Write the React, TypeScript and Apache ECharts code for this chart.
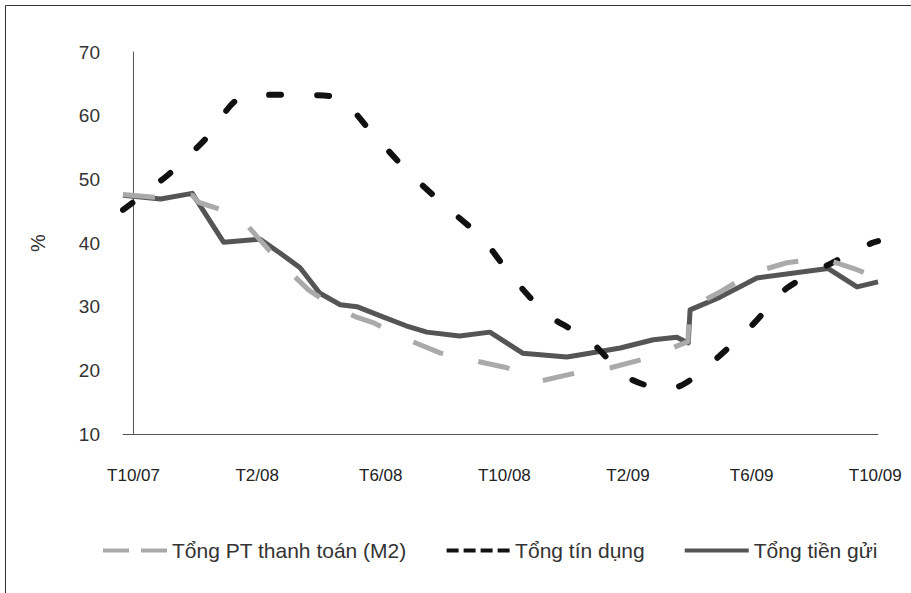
import React, { useEffect, useRef } from "react";
import * as echarts from "echarts";

// x = months since T10/07 (T10/07 = 0, T2/08 = 4, ...)
const xTickLabels = ["T10/07", "T2/08", "T6/08", "T10/08", "T2/09", "T6/09", "T10/09"];
const xTickValues = [0, 4, 8, 12, 16, 20, 24];
const seriesNames = ["Tổng PT thanh toán (M2)", "Tổng tín dụng", "Tổng tiền gửi"];

const m2Data: [number, number][] = [
  [-0.34, 47.6], [0.68, 47.2], [1.9, 47.5], [2.1, 46.4], [3.12, 44.8], [3.73, 42.5], [4.09, 40.5],
  [4.75, 36.9], [5.67, 32.6], [6.48, 30.0], [7.19, 28.4], [7.8, 27.4], [8.72, 25.1], [9.94, 22.7],
  [10.96, 21.6], [12.08, 20.4], [13.15, 18.3], [14.42, 19.7], [15.44, 20.4], [16.61, 21.9],
  [17.68, 24.0], [17.94, 24.5], [17.99, 29.8], [18.9, 32.1], [20.02, 35.3], [21.14, 36.9],
  [22.31, 37.6], [23.41, 35.8], [24.09, 34.5],
];

const creditData: [number, number][] = [
  [-0.34, 45.2], [1.19, 51.0], [2.38, 56.6], [3.39, 62.6], [4.95, 63.3], [6.58, 62.9], [7.7, 57.4],
  [8.82, 51.5], [10.04, 46.0], [11.27, 40.8], [12.28, 34.5], [13.4, 28.7], [14.73, 24.8],
  [15.95, 19.0], [16.97, 17.3], [17.58, 17.4], [18.8, 21.6], [20.02, 27.1], [21.14, 32.9],
  [22.77, 37.3], [23.89, 40.0], [24.09, 40.3],
];

const depositData: [number, number][] = [
  [-0.34, 47.5], [0.88, 46.9], [1.9, 47.8], [2.92, 40.1], [4.09, 40.6], [4.75, 38.4], [5.39, 36.1],
  [6.03, 32.1], [6.69, 30.3], [7.23, 30.0], [8.07, 28.4], [8.82, 27.0], [9.49, 26.0],
  [10.55, 25.4], [11.53, 26.0], [12.59, 22.7], [14.02, 22.1], [14.42, 22.4], [15.75, 23.5],
  [16.82, 24.8], [17.58, 25.2], [17.95, 24.3], [18.01, 29.5], [18.98, 31.5], [20.17, 34.5],
  [22.47, 36.0], [23.41, 33.1], [24.09, 33.9],
];

const X_MIN = -0.34;
const X_MAX = 24.09;

const FONT = "'Liberation Sans', Arial, sans-serif";
const M2_COLOR = "#aaaaaa";
const CREDIT_COLOR = "#111111";
const DEPOSIT_COLOR = "#555555";

const ICON_M2 = "path://M0,0H26V4H0Z M38,0H64V4H38Z";
const ICON_CREDIT = "path://M0,0H12V4H0Z M17,0H29V4H17Z M34,0H46V4H34Z M51,0H63V4H51Z";
const ICON_DEPOSIT = "path://M0,0H64V4H0Z";

export default function App() {
  const ref = useRef<HTMLDivElement>(null);
  useEffect(() => {
    document.body.style.margin = "0";
    if (!ref.current) return;
    const chart = echarts.init(ref.current, null, { renderer: "svg" });
    chart.setOption({
      animation: false,
      backgroundColor: "#ffffff",
      graphic: [
        {
          type: "rect",
          shape: { x: 5.5, y: 5.5, width: 1200, height: 1200 },
          style: { fill: "none", stroke: "#333", lineWidth: 1 },
          silent: true,
        },
      ],
      grid: { left: 123, right: 33, top: 52, bottom: 159, containLabel: false },
      legend: {
        left: 98,
        top: 535,
        itemWidth: 64,
        itemHeight: 4,
        itemGap: 40,
        textStyle: { fontFamily: FONT, fontSize: 21, color: "#333" },
        data: [
          { name: seriesNames[0], icon: ICON_M2, itemStyle: { color: M2_COLOR } },
          { name: seriesNames[1], icon: ICON_CREDIT, itemStyle: { color: CREDIT_COLOR } },
          { name: seriesNames[2], icon: ICON_DEPOSIT, itemStyle: { color: DEPOSIT_COLOR } },
        ],
      },
      xAxis: {
        type: "value",
        min: X_MIN,
        max: X_MAX,
        axisLine: { show: true, lineStyle: { color: "#555", width: 1 } },
        axisTick: { show: false },
        splitLine: { show: false },
        axisLabel: {
          margin: 33,
          fontFamily: FONT,
          fontSize: 17,
          color: "#222",
          customValues: xTickValues,
          formatter: (v: number) => {
            const i = xTickValues.indexOf(Math.round(v));
            return i >= 0 ? xTickLabels[i] : "";
          },
        },
      },
      yAxis: {
        type: "value",
        min: 10,
        max: 70,
        interval: 10,
        name: "%",
        nameLocation: "middle",
        nameGap: 75,
        nameRotate: 90,
        nameTextStyle: { fontFamily: FONT, fontSize: 20, color: "#333" },
        axisLine: { show: true, lineStyle: { color: "#555", width: 1 } },
        axisTick: { show: false },
        splitLine: { show: false },
        axisLabel: { margin: 23, fontFamily: FONT, fontSize: 19, color: "#333" },
      },
      series: [
        {
          name: seriesNames[2],
          type: "line",
          data: depositData,
          symbol: "none",
          z: 2,
          lineStyle: { color: DEPOSIT_COLOR, width: 5, type: "solid", join: "round" },
          itemStyle: { color: DEPOSIT_COLOR },
        },
        {
          name: seriesNames[1],
          type: "line",
          data: creditData,
          symbol: "none",
          smooth: 0.25,
          z: 3,
          lineStyle: { color: CREDIT_COLOR, width: 6, type: [12, 36], cap: "round" },
          itemStyle: { color: CREDIT_COLOR },
        },
        {
          name: seriesNames[0],
          type: "line",
          data: m2Data,
          symbol: "none",
          z: 4,
          lineStyle: { color: M2_COLOR, width: 5, type: [32, 36] },
          itemStyle: { color: M2_COLOR },
        },
      ],
    });
    return () => chart.dispose();
  }, []);
  return <div ref={ref} style={{ width: 911, height: 593 }} />;
}
